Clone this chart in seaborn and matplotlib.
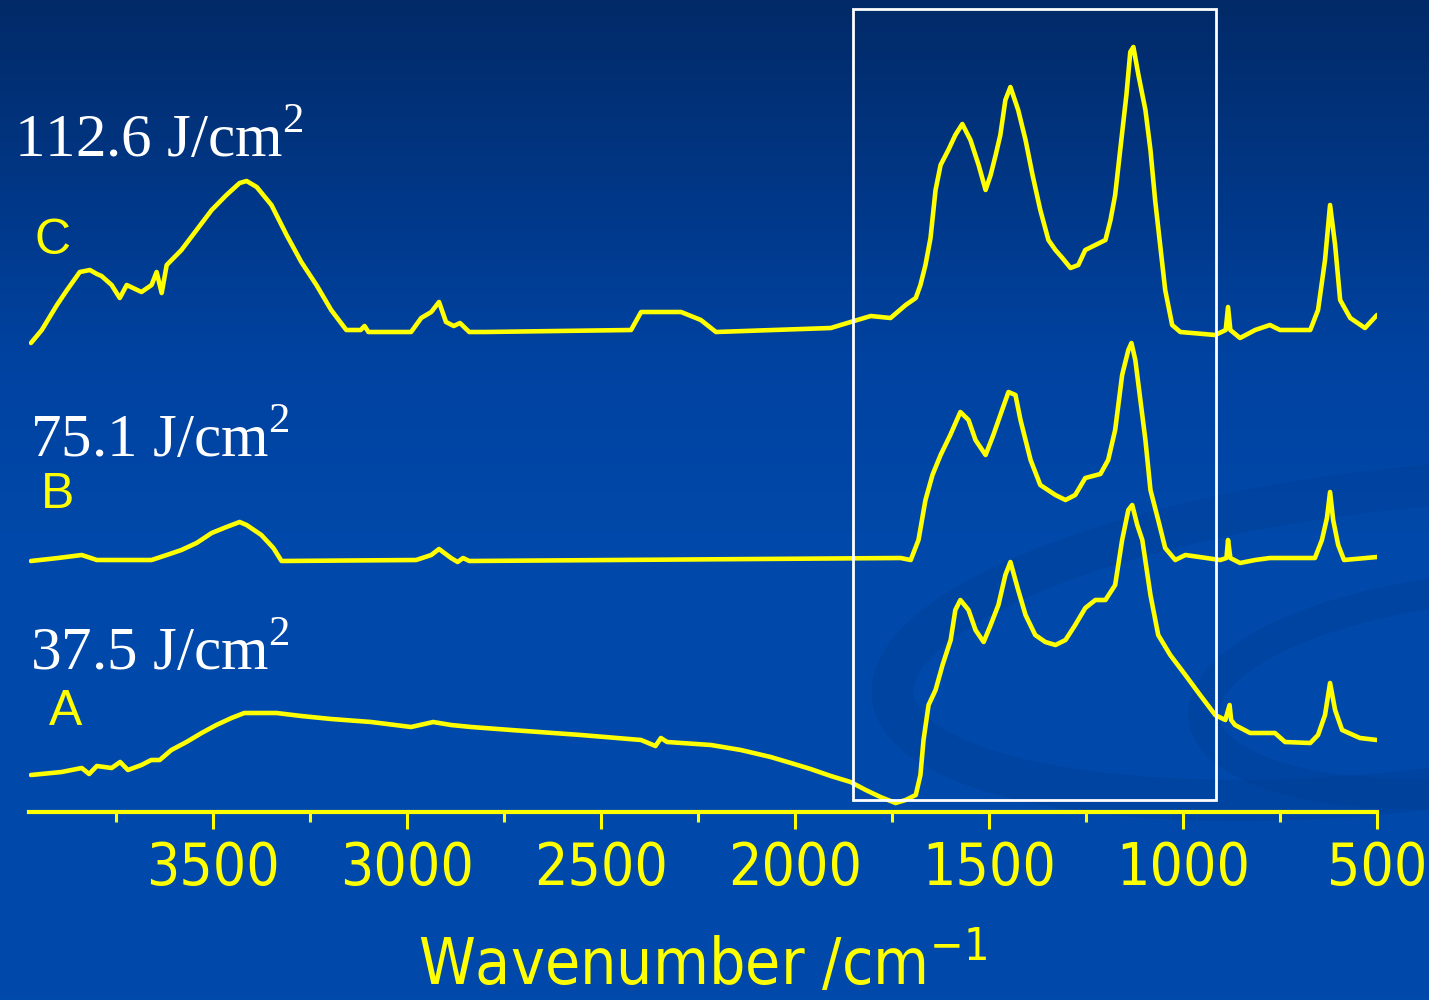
import numpy as np
import pandas as pd
import matplotlib
matplotlib.use("Agg")
import matplotlib.pyplot as plt
import seaborn as sns
from matplotlib.patches import Rectangle, Ellipse
from matplotlib.colors import LinearSegmentedColormap

# ---------------- data (wavenumber, offset absorbance in arbitrary units) ----------------
wn_c = [3970, 3942, 3903, 3877, 3844, 3818, 3800, 3788, 3762, 3741, 3723, 3685, 3659, 3646, 3633,
        3620, 3582, 3543, 3504, 3466, 3432, 3414, 3388, 3350, 3311, 3273, 3234, 3196, 3157, 3120,
        3110, 3100, 3015, 2990, 2964, 2938, 2918, 2900, 2880, 2864, 2856, 2840, 2800, 2423, 2397,
        2294, 2243, 2204, 1908, 1857, 1805, 1754, 1715, 1689, 1677, 1664, 1651, 1638, 1625, 1605,
        1587, 1569, 1548, 1527, 1509, 1496, 1483, 1471, 1458, 1445, 1425, 1406, 1388, 1368, 1347,
        1329, 1311, 1290, 1270, 1252, 1226, 1200, 1187, 1175, 1162, 1146, 1136, 1128, 1115, 1097,
        1084, 1072, 1059, 1046, 1028, 1007, 917, 890, 884, 878, 853, 814, 776, 750, 672, 652, 634,
        621, 608, 595, 569, 531, 500]
ab_c = [469, 482, 507, 522, 540, 542, 538, 536, 527, 514, 527, 520, 527, 540, 519,
        547, 562, 582, 602, 617, 629, 631, 625, 607, 577, 550, 527, 502, 482, 482,
        486, 480, 480, 480, 494, 500, 510, 490, 486, 489, 486, 480, 480, 482, 500,
        500, 492, 480, 484, 490, 496, 494, 507, 514, 527, 547, 574, 622, 647, 662,
        677, 688, 672, 647, 622, 637, 657, 677, 712, 725, 702, 672, 637, 602, 572,
        562, 554, 544, 547, 562, 567, 572, 592, 617, 662, 717, 760, 765, 737, 702,
        662, 612, 567, 522, 487, 480, 477, 482, 505, 482, 474, 482, 487, 482, 482, 502, 552,
        607, 567, 512, 494, 484, 497]

wn_b = [3970, 3900, 3839, 3800, 3659, 3620, 3582, 3543, 3504, 3466, 3432, 3414, 3376, 3345,
        3324, 2977, 2938, 2918, 2887, 2870, 2856, 2840, 1728, 1702, 1682, 1664, 1646, 1625,
        1600, 1574, 1553, 1535, 1509, 1489, 1471, 1450, 1432, 1419, 1393, 1368, 1329, 1303,
        1278, 1252, 1213, 1193, 1175, 1157, 1141, 1133, 1123, 1110, 1097, 1084, 1064, 1046,
        1020, 994, 904, 888, 884, 878, 853, 814, 776, 660, 642, 629, 621, 613, 600, 585, 500]
ab_b = [251, 254, 257, 252, 252, 257, 262, 269, 279, 285, 290, 287, 277, 264,
        251, 252, 257, 263, 254, 250, 254, 251, 254, 252, 272, 312, 337, 357,
        377, 400, 392, 372, 357, 377, 397, 420, 417, 392, 352, 327, 317, 312,
        317, 334, 338, 352, 382, 437, 462, 469, 452, 412, 372, 322, 292, 264,
        252, 257, 252, 254, 272, 254, 249, 252, 254, 254, 272, 294, 320, 292, 267, 252, 255]

wn_a = [3970, 3891, 3839, 3820, 3800, 3762, 3740, 3720, 3685, 3660, 3638, 3608, 3569, 3530,
        3492, 3453, 3420, 3337, 3273, 3196, 3093, 2990, 2933, 2887, 2835, 2732, 2552, 2397,
        2360, 2346, 2330, 2217, 2140, 2063, 2011, 1960, 1908, 1857, 1818, 1780, 1741, 1715,
        1689, 1677, 1669, 1656, 1638, 1620, 1599, 1587, 1574, 1553, 1535, 1514, 1496, 1476,
        1458, 1445, 1425, 1406, 1381, 1355, 1329, 1303, 1278, 1252, 1226, 1200, 1175, 1157,
        1141, 1131, 1118, 1105, 1084, 1064, 1033, 994, 956, 917, 891, 880, 876, 866, 827, 763,
        737, 672, 652, 634, 621, 608, 590, 544, 500]
ab_a = [37, 40, 44, 38, 46, 44, 50, 42, 47, 52, 52, 62, 70, 79,
        87, 94, 99, 99, 96, 93, 90, 85, 90, 87, 85, 82, 77, 72,
        66, 74, 70, 67, 62, 55, 49, 43, 36, 30, 22, 15, 9, 12,
        17, 37, 72, 107, 122, 147, 172, 202, 212, 202, 182, 170, 187, 207,
        237, 250, 222, 197, 177, 170, 167, 172, 187, 204, 212, 212, 227, 272,
        302, 307, 287, 272, 217, 177, 157, 137, 117, 97, 92, 107, 92, 87, 79, 79,
        70, 69, 77, 97, 129, 102, 82, 74, 72]

dose_labels = [r"112.6 J/cm$^{\mathregular{2}}$", r"75.1 J/cm$^{\mathregular{2}}$", r"37.5 J/cm$^{\mathregular{2}}$"]
curve_labels = ["C", "B", "A"]
xticks = [3500, 3000, 2500, 2000, 1500, 1000, 500]
minor_ticks = [3750, 3250, 2750, 2250, 1750, 1250, 750]
box_x = [1852, 915]
box_y = [12, 803]

YEL = "#ffff00"
sns.set_theme(style="white")
plt.rcParams['font.family'] = ['DejaVu Sans']

W, H = 1429, 1000
fig = plt.figure(figsize=(W / 100, H / 100), dpi=100)

# background gradient
bg = fig.add_axes([0, 0, 1, 1], zorder=-2)
grad = np.linspace(0, 1, 256)
cm = LinearSegmentedColormap.from_list("bg", [(0.0, "#022a68"), (0.35, "#0042a0"), (0.55, "#0049aa"), (1.0, "#004aab")])
bg.imshow(grad[:, None], aspect="auto", cmap=cm, extent=[0, 1, 0, 1], origin="upper")
for (cx, cy, w, h, ang, lw) in [(0.98, 0.36, 0.72, 0.30, 10, 30), (1.03, 0.31, 0.38, 0.20, 10, 22)]:
    bg.add_patch(Ellipse((cx, cy), w, h, angle=ang, fill=False, lw=lw, ec="#003d93", alpha=0.35))
bg.set_xlim(0, 1); bg.set_ylim(0, 1)
bg.axis("off")

left, right = 29 / W, 1377 / W
bottom = (H - 812) / H
ax = fig.add_axes([left, bottom, right - left, 1 - bottom])
ax.set_facecolor("none")
ax.patch.set_alpha(0)

for wn, ab in [(wn_c, ab_c), (wn_b, ab_b), (wn_a, ab_a)]:
    df = pd.DataFrame({"wn": wn, "ab": ab})
    sns.lineplot(data=df, x="wn", y="ab", ax=ax, color=YEL, lw=3.3, estimator=None, sort=True)

ax.add_patch(Rectangle((box_x[1], box_y[0]), box_x[0] - box_x[1], box_y[1] - box_y[0],
                       fill=False, ec="white", lw=2.0, zorder=5))

ax.set_xlim(3975, 500)
ax.set_ylim(0, 812)
for s in ["top", "left", "right"]:
    ax.spines[s].set_visible(False)
ax.spines["bottom"].set_color(YEL)
ax.spines["bottom"].set_linewidth(3.0)
ax.set_yticks([])
ax.set_xticks(xticks)
ax.set_xticks(minor_ticks, minor=True)
ax.tick_params(axis="x", which="major", direction="out", length=12, width=2.2, color=YEL,
               labelcolor=YEL, labelsize=42, pad=8, bottom=True)
ax.tick_params(axis="x", which="minor", direction="out", length=7, width=2.2, color=YEL, bottom=True)
for lab in ax.get_xticklabels():
    lab.set_fontfamily("DejaVu Sans")
    lab.set_fontstretch("condensed")
ax.set_ylabel("")
xl = ax.set_xlabel(r"Wavenumber /cm$^{\mathregular{-1}}$", color=YEL, fontsize=46, labelpad=24)
xl.set_fontfamily("DejaVu Sans")
xl.set_fontstretch("condensed")

serif = ["Liberation Serif", "DejaVu Serif"]
dose_pos = [(14, 142), (30, 442), (30, 655)]
curve_pos = [(53, 241), (58, 495), (66, 712)]
for t, (x, y) in zip(dose_labels, dose_pos):
    fig.text(x / W, 1 - y / H, t, color="white", fontsize=44, family=serif, ha="left", va="center")
for t, (x, y) in zip(curve_labels, curve_pos):
    fig.text(x / W, 1 - y / H, t, color=YEL, fontsize=36, family=["Liberation Sans", "DejaVu Sans"],
             ha="center", va="center")

fig.savefig("out.png", dpi=100)
